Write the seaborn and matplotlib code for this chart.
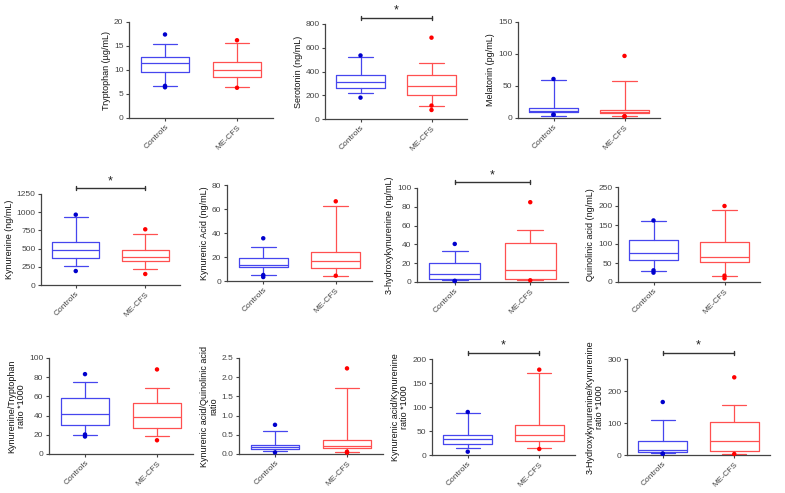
import numpy as np
import pandas as pd
import matplotlib
matplotlib.use("Agg")
import matplotlib.pyplot as plt
import matplotlib.transforms as mtransforms
import seaborn as sns

sns.set_style("ticks")
plt.rcParams['font.family'] = ['Liberation Sans', 'DejaVu Sans']

groups = ["Controls", "ME-CFS"]
colors = {"Controls": "#4646ee", "ME-CFS": "#ff5050"}
dot_colors = {"Controls": "#0000cc", "ME-CFS": "#ff0000"}

# box stats per group: [whisker low, q1, median, q3, whisker high]
trp_ctrl = [6.6, 9.6, 11.5, 12.8, 15.4]
trp_cfs = [6.4, 8.5, 10.1, 11.7, 15.6]
trp_out_ctrl = [17.4, 6.7, 6.4]
trp_out_cfs = [16.2, 6.3]

ser_ctrl = [222, 265, 310, 372, 518]
ser_cfs = [113, 200, 276, 372, 468]
ser_out_ctrl = [535, 180]
ser_out_cfs = [685, 113, 76]

mel_ctrl = [3.7, 8.9, 11.0, 16.2, 59]
mel_cfs = [2.6, 7.3, 9.4, 12.0, 57.5]
mel_out_ctrl = [61, 5.2, 5.2]
mel_out_cfs = [97, 2.6, 2.6]

kyn_ctrl = [256, 371, 481, 591, 934]
kyn_cfs = [220, 330, 385, 476, 696]
kyn_out_ctrl = [966, 192]
kyn_out_cfs = [765, 151]

ka_ctrl = [4.7, 11.4, 13.6, 18.9, 28.3]
ka_cfs = [4.4, 10.8, 16.9, 23.9, 62.2]
ka_out_ctrl = [35.6, 5.0, 3.3]
ka_out_cfs = [66.4, 4.4]

hk_ctrl = [2.1, 3.2, 8.5, 20.4, 32.7]
hk_cfs = [1.8, 3.2, 12.7, 41.2, 55.3]
hk_out_ctrl = [40.5, 1.1, 1.1]
hk_out_cfs = [84.9, 1.8]

qa_ctrl = [29.8, 58.8, 77.2, 109.6, 161.4]
qa_cfs = [15.8, 53.5, 66.7, 106, 190]
qa_out_ctrl = [162, 30.7, 24.6]
qa_out_cfs = [200, 16.7, 9.6]

kt_ctrl = [19.9, 30.4, 41.3, 58.7, 74.8]
kt_cfs = [18.9, 27.6, 38.1, 52.8, 69.2]
kt_out_ctrl = [83.2, 20.3, 18.2]
kt_out_cfs = [88.1, 14.3]

kaqa_ctrl = [0.08, 0.12, 0.18, 0.245, 0.61]
kaqa_cfs = [0.06, 0.16, 0.22, 0.36, 1.73]
kaqa_out_ctrl = [0.76, 0.04]
kaqa_out_cfs = [2.23, 0.06, 0.035]

kak_ctrl = [13.9, 23, 34, 41, 88]
kak_cfs = [14.6, 28.5, 41.7, 62.5, 170.8]
kak_out_ctrl = [89.6, 6.9]
kak_out_cfs = [177.8, 12.5]

hkk_ctrl = [5.2, 8.3, 16.7, 43.8, 109]
hkk_cfs = [4.2, 12.5, 44.8, 103, 156]
hkk_out_ctrl = [165.6, 4.2, 4.2]
hkk_out_cfs = [242.7, 3.1]

panels = [
    # ylabel, ctrl, cfs, out ctrl, out cfs, yticks, significant, axes box (px: left, top, right, bottom)
    ("Tryptophan (µg/mL)", trp_ctrl, trp_cfs, trp_out_ctrl, trp_out_cfs, [0, 5, 10, 15, 20], False, (129, 22, 273, 118)),
    ("Serotonin (ng/mL)", ser_ctrl, ser_cfs, ser_out_ctrl, ser_out_cfs, [0, 200, 400, 600, 800], True, (325, 24, 467, 119)),
    ("Melatonin (pg/mL)", mel_ctrl, mel_cfs, mel_out_ctrl, mel_out_cfs, [0, 50, 100, 150], False, (518, 22, 660, 118)),
    ("Kynurenine (ng/mL)", kyn_ctrl, kyn_cfs, kyn_out_ctrl, kyn_out_cfs, [0, 250, 500, 750, 1000, 1250], True, (41, 194, 180, 285)),
    ("Kynurenic Acid (ng/mL)", ka_ctrl, ka_cfs, ka_out_ctrl, ka_out_cfs, [0, 20, 40, 60, 80], False, (227, 185, 372, 281)),
    ("3-hydroxykynurenine (ng/mL)", hk_ctrl, hk_cfs, hk_out_ctrl, hk_out_cfs, [0, 20, 40, 60, 80, 100], True, (417, 188, 568, 282)),
    ("Quinolinic acid (ng/mL)", qa_ctrl, qa_cfs, qa_out_ctrl, qa_out_cfs, [0, 50, 100, 150, 200, 250], False, (618, 187, 760, 282)),
    ("Kynurenine/Tryptophan\nratio *1000", kt_ctrl, kt_cfs, kt_out_ctrl, kt_out_cfs, [0, 20, 40, 60, 80, 100], False, (49, 358, 193, 454)),
    ("Kynurenic acid/Quinolinic acid\nratio", kaqa_ctrl, kaqa_cfs, kaqa_out_ctrl, kaqa_out_cfs, [0.0, 0.5, 1.0, 1.5, 2.0, 2.5], False, (239, 358, 383, 454)),
    ("Kynurenic acid/Kynurenine\nratio *1000", kak_ctrl, kak_cfs, kak_out_ctrl, kak_out_cfs, [0, 50, 100, 150, 200], True, (432, 359, 575, 455)),
    ("3-Hydroxykynurenine/Kynurenine\nratio *1000", hkk_ctrl, hkk_cfs, hkk_out_ctrl, hkk_out_cfs, [0, 100, 200, 300], True, (627, 359, 770, 455)),
]

W, H = 785, 493
fig = plt.figure(figsize=(W / 100, H / 100), dpi=100)
axis_col = "#444444"

for ylabel, ctrl, cfs, out_c, out_m, yticks, sig, box in panels:
    l, t, r, b = box
    ax = fig.add_axes([l / W, 1 - b / H, (r - l) / W, (b - t) / H])

    # outlier dots through seaborn
    pts = pd.DataFrame({"group": ["Controls"] * len(out_c) + ["ME-CFS"] * len(out_m),
                        "value": list(out_c) + list(out_m)})
    sns.stripplot(data=pts, x="group", y="value", hue="group", order=groups,
                  palette=dot_colors, jitter=False, size=3.2, linewidth=0,
                  legend=False, ax=ax, zorder=3, clip_on=False)

    for pos, (g, s) in enumerate(zip(groups, [ctrl, cfs])):
        st = [dict(whislo=s[0], q1=s[1], med=s[2], q3=s[3], whishi=s[4], fliers=[])]
        c = colors[g]
        ax.bxp(st, positions=[pos], widths=0.68, showfliers=False,
               boxprops=dict(color=c, lw=0.9), medianprops=dict(color=c, lw=0.9),
               whiskerprops=dict(color=c, lw=0.9), capprops=dict(color=c, lw=0.9),
               capwidths=0.34, manage_ticks=False)

    ax.set_xlim(-0.5, 1.5)
    ax.set_ylim(0, yticks[-1])
    ax.set_yticks(yticks)
    if isinstance(yticks[1], float):
        ax.set_yticklabels([f"{v:.1f}" for v in yticks])
    ax.set_xticks([0, 1])
    ax.set_xticklabels(groups, rotation=45, ha="right", rotation_mode="anchor")
    ax.set_xlabel("")
    ax.set_ylabel(ylabel, fontsize=6.5, color="#111111", labelpad=2, linespacing=1.1)
    ax.tick_params(labelsize=6, colors=axis_col, length=2.5, width=0.8, pad=1.5)
    for sp in ["left", "bottom"]:
        ax.spines[sp].set_color(axis_col)
        ax.spines[sp].set_linewidth(0.9)
    sns.despine(ax=ax)

    if sig:
        tr = mtransforms.blended_transform_factory(ax.transData, ax.transAxes)
        ax.plot([0, 1], [1.065, 1.065], color="#333333", lw=1, transform=tr, clip_on=False)
        for xx in [0, 1]:
            ax.plot([xx, xx], [1.045, 1.085], color="#333333", lw=1, transform=tr, clip_on=False)
        ax.text(0.5, 1.075, "*", transform=tr, ha="center", va="bottom", fontsize=9, color="#222222")

fig.savefig("out.png", dpi=100)
